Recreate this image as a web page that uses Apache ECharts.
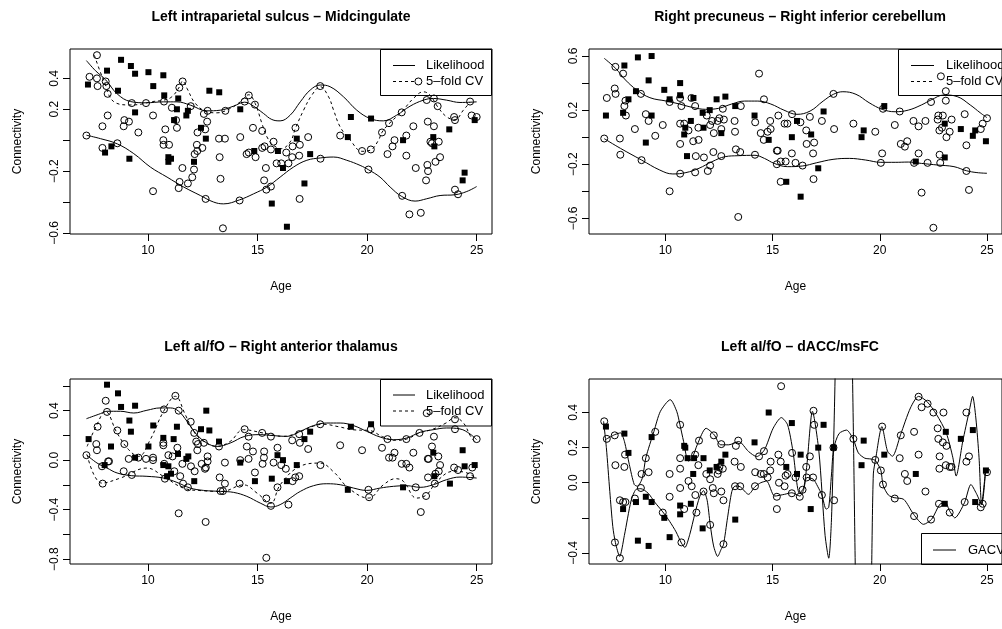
<!DOCTYPE html>
<html lang="en">
<head>
<meta charset="utf-8">
<title>Connectivity vs Age</title>
<style>
    html, body { margin: 0; padding: 0; background: #fff; }
    .page { width: 1002px; height: 629px; }
</style>
</head>
<body>
<div id="page" class="page"></div>
<script src="https://cdn.jsdelivr.net/npm/echarts@6/dist/echarts.min.js"></script>
<script>
var FONT = '"Liberation Sans", Arial, Helvetica, sans-serif';

// shared age axis
var ageRange = [6.44, 25.7];
var ageTicks = [10, 15, 20, 25];

// panel titles
var titles = [
    'Left intraparietal sulcus \u2013 Midcingulate',
    'Right precuneus \u2013 Right inferior cerebellum',
    'Left aI/fO \u2013 Right anterior thalamus',
    'Left aI/fO \u2013 dACC/msFC'
];

// y ranges, ticks and the labels R kept
var p1Range = [-0.607, 0.59], p1Ticks = [-0.6, -0.4, -0.2, 0, 0.2, 0.4], p1Labels = [-0.6, -0.2, 0.2, 0.4];
var p2Range = [-0.716, 0.652], p2Ticks = [-0.6, -0.4, -0.2, 0, 0.2, 0.4, 0.6], p2Labels = [-0.6, -0.2, 0.2, 0.6];
var p3Range = [-0.84, 0.656], p3Ticks = [-0.8, -0.6, -0.4, -0.2, 0, 0.2, 0.4, 0.6], p3Labels = [-0.8, -0.4, 0, 0.4];
var p4Range = [-0.463, 0.591], p4Ticks = [-0.4, -0.2, 0, 0.2, 0.4], p4Labels = [-0.4, 0, 0.2, 0.4];

// ---- panel 1: Left intraparietal sulcus - Midcingulate
var p1Open = [[7.67,0.55],[7.33,0.41],[7.67,0.40],[7.70,0.35],[8.07,0.38],[8.16,0.30],[8.10,0.35],[7.19,0.03],[7.92,0.09],[8.16,0.16],[7.92,-0.05],[8.60,-0.02],[8.92,0.13],[8.89,0.09],[9.13,0.12],[9.26,0.24],[9.56,0.05],[9.91,0.24],[10.23,0.16],[10.23,-0.33],[10.73,0.25],[10.79,0.07],[10.70,0.00],[10.71,-0.03],[10.96,-0.03],[11.09,0.21],[11.28,0.13],[11.32,0.08],[11.43,0.34],[11.58,0.38],[11.57,-0.18],[11.44,-0.27],[11.40,-0.31],[11.82,-0.28],[11.95,0.22],[12.02,-0.24],[12.10,-0.19],[12.13,-0.09],[12.25,-0.07],[12.23,-0.03],[12.26,0.05],[12.48,-0.05],[12.55,0.17],[12.61,0.07],[12.70,0.12],[12.63,-0.38],[12.72,0.19],[13.24,0.01],[13.51,0.01],[13.27,-0.11],[13.31,-0.25],[13.42,-0.57],[13.53,0.19],[14.18,-0.39],[14.21,0.02],[14.41,0.25],[14.60,0.29],[14.50,-0.09],[14.60,-0.08],[14.91,-0.11],[14.88,0.23],[14.79,0.08],[15.21,0.06],[15.21,-0.05],[15.32,-0.04],[15.30,-0.26],[15.38,-0.18],[15.40,-0.32],[15.61,-0.30],[15.61,-0.06],[15.73,-0.01],[15.87,-0.15],[16.08,-0.15],[16.31,-0.08],[16.41,-0.15],[16.58,-0.11],[16.60,-0.04],[16.73,0.08],[16.90,-0.10],[16.93,-0.03],[16.92,-0.38],[17.31,0.02],[17.86,0.35],[17.87,-0.12],[18.77,0.03],[19.77,-0.07],[20.17,-0.06],[20.06,-0.19],[20.68,0.05],[20.93,-0.09],[21.00,0.11],[21.16,-0.04],[21.25,0.00],[21.58,0.18],[21.60,-0.36],[21.79,0.03],[21.79,-0.10],[22.11,0.09],[22.22,-0.18],[21.93,-0.48],[22.45,-0.47],[22.69,-0.26],[22.75,-0.16],[22.78,-0.20],[22.77,0.12],[22.72,0.26],[22.89,-0.01],[22.96,-0.02],[23.05,0.09],[23.05,0.27],[23.12,-0.14],[23.22,0.22],[23.27,-0.01],[23.33,-0.11],[23.97,0.15],[24.01,0.13],[24.01,-0.32],[24.15,-0.35],[24.70,0.25],[24.77,0.16],[25.00,0.15],[22.34,0.38]];
var p1Fill = [[7.26,0.36],[8.13,0.45],[8.04,-0.08],[8.33,-0.04],[8.63,0.32],[8.77,0.52],[9.22,0.48],[9.41,0.43],[9.41,0.18],[9.15,-0.12],[10.02,0.44],[10.24,0.35],[10.70,0.42],[10.74,0.29],[10.93,-0.11],[11.05,-0.12],[10.93,-0.14],[11.19,0.13],[11.32,0.20],[11.38,0.27],[11.75,0.16],[11.82,0.19],[12.10,-0.14],[12.42,0.08],[12.64,0.01],[12.80,0.32],[13.25,0.31],[14.21,0.20],[14.85,-0.07],[15.65,-0.41],[15.93,-0.07],[16.16,-0.18],[16.34,-0.56],[16.79,0.01],[17.14,-0.28],[17.40,-0.09],[19.12,0.02],[19.26,0.15],[20.18,0.14],[21.64,0.00],[23.02,0.02],[23.07,-0.04],[23.75,0.07],[24.36,-0.26],[24.45,-0.21],[24.91,0.13]];
var p1LikUp = [[7.19,0.515],[7.6,0.45],[8.07,0.39],[8.59,0.30],[9.2,0.25],[9.91,0.242],[10.71,0.248],[11.32,0.248],[11.93,0.227],[12.69,0.19],[13.3,0.194],[13.9,0.22],[14.41,0.246],[14.82,0.22],[15.27,0.173],[15.65,0.134],[16.03,0.125],[16.49,0.162],[16.95,0.248],[17.4,0.324],[17.86,0.357],[18.31,0.346],[18.92,0.281],[19.53,0.194],[20.14,0.14],[20.74,0.125],[21.35,0.162],[21.96,0.22],[22.57,0.259],[23.02,0.27],[23.63,0.259],[24.24,0.244],[25.0,0.248]];
var p1LikLow = [[7.19,0.032],[7.83,0.01],[8.6,-0.024],[9.35,-0.087],[10.11,-0.174],[10.87,-0.239],[11.63,-0.303],[12.39,-0.358],[12.99,-0.40],[13.45,-0.412],[14.18,-0.386],[14.82,-0.347],[15.43,-0.303],[16.03,-0.239],[16.64,-0.174],[17.25,-0.13],[17.86,-0.115],[18.47,-0.109],[19.07,-0.13],[19.68,-0.163],[20.06,-0.191],[20.59,-0.239],[21.05,-0.303],[21.58,-0.364],[22.19,-0.394],[22.72,-0.379],[23.33,-0.358],[24.01,-0.353],[24.55,-0.332],[25.0,-0.3]];
var p1CvUp = [[7.55,0.55],[7.8,0.45],[8.0,0.38],[8.43,0.25],[9.19,0.228],[9.7,0.233],[10.11,0.248],[10.71,0.259],[11.09,0.281],[11.43,0.344],[11.58,0.383],[11.78,0.335],[12.16,0.238],[12.69,0.184],[13.15,0.177],[13.75,0.205],[14.21,0.248],[14.6,0.294],[14.89,0.238],[15.2,0.108],[15.43,0.021],[15.73,-0.033],[16.08,-0.055],[16.49,-0.011],[16.73,0.077],[17.1,0.194],[17.48,0.292],[17.86,0.346],[18.24,0.281],[18.47,0.194],[18.77,0.086],[19.23,0.0],[19.77,-0.072],[20.17,-0.063],[20.52,0.0],[20.68,0.051],[21.0,0.106],[21.58,0.184],[22.11,0.27],[22.57,0.313],[22.87,0.292],[23.22,0.216],[23.63,0.151],[24.01,0.132],[24.39,0.194],[24.7,0.246]];

// ---- panel 2: Right precuneus - Right inferior cerebellum
var p2Open = [[7.27,0.29],[7.15,-0.01],[7.67,0.52],[7.64,0.36],[7.68,0.32],[8.03,0.47],[8.09,0.23],[8.14,0.27],[8.16,0.16],[7.88,-0.01],[7.90,-0.13],[8.58,0.06],[8.86,0.32],[8.89,-0.17],[9.09,0.17],[9.22,0.12],[9.53,0.01],[9.88,0.09],[10.20,0.26],[10.20,-0.40],[10.69,0.29],[10.75,0.23],[10.69,0.10],[10.69,-0.05],[10.69,-0.27],[10.88,0.10],[11.08,0.05],[11.22,0.29],[11.39,0.23],[11.30,-0.03],[11.42,-0.14],[11.54,0.07],[11.55,-0.02],[11.39,-0.26],[11.80,-0.15],[11.93,0.16],[11.98,-0.25],[12.09,-0.21],[12.09,0.09],[12.18,0.12],[12.26,0.03],[12.24,-0.11],[12.44,0.12],[12.52,0.14],[12.61,0.06],[12.61,-0.14],[12.68,0.21],[12.73,0.13],[13.23,0.12],[13.25,0.04],[13.29,-0.09],[13.40,-0.59],[13.49,-0.11],[13.52,0.23],[14.19,0.11],[14.18,-0.13],[14.37,0.47],[14.60,0.28],[14.45,0.03],[14.59,-0.02],[14.77,0.04],[14.89,0.12],[14.91,0.06],[15.20,-0.10],[15.24,-0.10],[15.27,0.16],[15.20,-0.20],[15.38,-0.18],[15.38,-0.33],[15.61,-0.18],[15.56,0.10],[15.69,0.10],[15.91,0.17],[15.90,-0.12],[16.07,-0.19],[16.30,0.11],[16.40,-0.21],[16.57,0.05],[16.59,-0.05],[16.74,0.15],[16.89,-0.12],[16.91,-0.31],[16.94,-0.04],[17.30,0.12],[17.84,0.32],[17.87,0.06],[18.77,0.10],[19.79,0.04],[20.05,-0.19],[20.11,-0.12],[20.15,0.21],[20.70,0.09],[20.93,0.19],[20.98,-0.05],[21.17,-0.07],[21.28,-0.03],[21.57,0.12],[21.60,-0.19],[21.81,0.08],[21.81,-0.12],[21.95,-0.41],[22.13,0.12],[22.23,-0.19],[22.39,0.26],[22.50,-0.67],[22.70,0.13],[22.73,0.16],[22.78,0.05],[22.79,-0.13],[22.82,-0.19],[22.94,0.16],[22.90,0.07],[23.08,0.34],[23.08,0.27],[23.11,0.00],[23.26,0.04],[23.35,0.13],[22.85,0.45],[23.96,0.17],[24.04,-0.06],[24.04,-0.25],[24.16,-0.39],[24.71,0.06],[24.80,0.10],[25.00,0.14]];
var p2Fill = [[7.23,0.16],[8.09,0.53],[8.03,0.18],[8.28,0.28],[8.63,0.34],[8.72,0.59],[9.22,0.42],[9.36,0.60],[9.36,0.16],[9.09,-0.04],[9.95,0.35],[10.20,0.28],[10.69,0.40],[10.69,0.31],[10.88,0.02],[10.93,0.07],[11.19,0.12],[11.01,-0.14],[11.31,0.29],[11.74,0.18],[11.78,0.07],[12.07,0.20],[12.39,0.28],[12.61,0.03],[12.80,0.30],[13.26,0.23],[14.16,0.16],[14.82,-0.02],[15.64,-0.33],[15.90,0.00],[16.14,0.12],[16.31,-0.44],[16.80,0.02],[17.13,-0.23],[17.38,0.19],[19.15,0.00],[19.25,0.05],[20.21,0.23],[21.68,-0.18],[23.03,0.10],[23.03,-0.15],[23.78,0.06],[24.45,0.05],[24.34,0.01],[24.95,-0.03]];
var p2LikUp = [[7.15,0.583],[7.68,0.509],[8.14,0.423],[8.67,0.349],[9.28,0.292],[10.05,0.267],[10.66,0.245],[11.27,0.22],[11.88,0.206],[12.48,0.213],[13.09,0.245],[13.7,0.267],[14.31,0.267],[14.92,0.245],[15.53,0.2],[16.14,0.169],[16.75,0.193],[17.36,0.267],[17.84,0.317],[18.28,0.336],[18.89,0.317],[19.5,0.255],[20.11,0.206],[20.72,0.188],[21.33,0.2],[21.94,0.238],[22.39,0.275],[23.0,0.312],[23.61,0.3],[24.22,0.238],[24.68,0.181],[25.0,0.144]];
var p2LikLow = [[7.15,-0.011],[7.91,-0.083],[8.89,-0.169],[9.74,-0.243],[10.35,-0.272],[10.96,-0.262],[11.57,-0.23],[12.18,-0.181],[12.79,-0.144],[13.4,-0.137],[14.18,-0.134],[14.62,-0.157],[15.08,-0.194],[15.69,-0.218],[16.4,-0.213],[17.06,-0.189],[17.82,-0.164],[18.58,-0.157],[19.34,-0.169],[20.05,-0.186],[20.72,-0.186],[21.33,-0.184],[21.94,-0.194],[22.7,-0.206],[23.46,-0.218],[24.04,-0.248],[24.53,-0.262],[25.0,-0.267]];

// ---- panel 3: Left aI/fO - Right anterior thalamus
var p3Open = [[7.19,0.04],[7.70,0.27],[7.64,0.13],[7.67,0.08],[8.07,0.48],[8.13,0.39],[7.90,-0.05],[8.18,-0.01],[8.22,-0.01],[7.93,-0.19],[8.60,0.24],[8.92,0.13],[8.89,-0.09],[9.26,-0.12],[9.12,0.01],[9.56,0.02],[9.91,0.01],[10.23,0.02],[10.23,0.00],[10.73,0.41],[10.70,0.14],[10.70,0.12],[10.74,-0.03],[10.77,-0.15],[10.93,0.04],[11.12,0.03],[11.25,0.52],[11.20,-0.09],[11.34,0.10],[11.40,0.40],[11.40,-0.43],[11.47,-0.13],[11.57,-0.03],[11.60,-0.19],[11.82,-0.22],[11.95,0.31],[11.96,-0.05],[12.11,0.22],[12.13,-0.09],[12.20,0.15],[12.25,0.08],[12.28,0.13],[12.45,-0.03],[12.55,0.14],[12.60,-0.07],[12.63,-0.50],[12.72,0.03],[12.72,-0.01],[12.64,-0.06],[13.24,0.11],[13.27,-0.14],[13.31,-0.25],[13.42,-0.25],[13.51,-0.02],[13.51,-0.19],[14.18,-0.19],[14.21,0.00],[14.41,0.25],[14.51,0.11],[14.59,0.19],[14.59,0.01],[14.79,0.07],[14.88,-0.10],[15.21,0.22],[15.30,0.07],[15.29,0.02],[15.23,-0.03],[15.40,-0.31],[15.40,-0.79],[15.61,-0.37],[15.61,0.19],[15.73,-0.02],[15.91,0.10],[15.91,-0.22],[16.08,-0.04],[16.29,-0.07],[16.41,-0.36],[16.58,0.16],[16.60,-0.17],[16.72,-0.14],[16.90,0.21],[16.93,0.14],[16.90,-0.13],[17.31,0.09],[17.86,0.29],[17.87,-0.04],[18.77,0.12],[19.77,0.08],[20.06,-0.24],[20.09,-0.30],[20.17,0.25],[20.68,0.10],[20.93,0.17],[21.00,0.02],[21.16,0.02],[21.25,0.06],[21.58,-0.03],[21.79,-0.03],[21.79,0.17],[21.93,-0.06],[22.11,0.06],[22.22,-0.22],[22.39,0.22],[22.45,-0.42],[22.69,-0.29],[22.72,0.38],[22.78,-0.14],[22.77,0.01],[22.81,0.01],[22.96,0.11],[23.05,0.19],[23.09,-0.19],[23.12,-0.11],[23.25,0.03],[23.33,-0.04],[23.27,-0.09],[23.97,-0.06],[24.01,0.33],[24.01,0.25],[24.15,-0.08],[24.70,-0.13],[24.80,-0.06],[25.00,0.17]];
var p3Fill = [[7.29,0.17],[8.13,0.61],[8.02,-0.04],[8.63,0.54],[8.31,0.11],[8.77,0.43],[9.15,0.32],[9.22,0.23],[9.41,0.44],[9.41,0.02],[10.02,0.11],[10.24,0.28],[10.70,0.18],[10.70,-0.04],[10.93,-0.05],[10.87,-0.13],[11.05,-0.11],[11.17,0.17],[11.32,0.27],[11.37,0.05],[11.75,0.01],[11.84,0.03],[12.11,-0.17],[12.42,0.25],[12.66,0.40],[12.80,0.24],[13.24,0.15],[14.21,-0.02],[14.88,-0.17],[15.65,-0.15],[15.91,0.04],[16.16,0.00],[16.34,-0.17],[16.79,-0.04],[17.14,0.17],[17.40,0.23],[19.12,-0.24],[19.26,0.27],[20.18,0.29],[21.64,-0.22],[23.02,0.06],[23.07,-0.13],[23.78,-0.19],[24.36,0.08],[24.45,-0.05],[24.91,-0.04]];
var p3LikUp = [[7.19,0.335],[7.83,0.376],[8.13,0.395],[8.74,0.395],[9.35,0.381],[9.95,0.403],[10.56,0.422],[11.02,0.422],[11.4,0.395],[11.78,0.314],[12.23,0.206],[12.69,0.138],[13.15,0.111],[13.75,0.138],[14.41,0.192],[15.12,0.206],[15.73,0.198],[16.34,0.192],[16.95,0.233],[17.55,0.279],[18.16,0.3],[18.77,0.3],[19.38,0.279],[19.98,0.233],[20.59,0.187],[21.2,0.165],[21.81,0.179],[22.42,0.225],[23.02,0.246],[23.63,0.26],[24.24,0.252],[24.7,0.211],[25.0,0.165]];
var p3LikLow = [[7.19,0.044],[7.67,-0.023],[8.13,-0.064],[8.59,-0.104],[9.26,-0.126],[9.95,-0.131],[10.7,-0.145],[11.32,-0.18],[11.93,-0.226],[12.54,-0.245],[13.31,-0.253],[13.91,-0.261],[14.51,-0.293],[15.12,-0.347],[15.61,-0.379],[16.03,-0.36],[16.49,-0.307],[16.95,-0.253],[17.55,-0.207],[18.16,-0.191],[18.77,-0.199],[19.38,-0.226],[19.98,-0.245],[20.59,-0.226],[21.2,-0.212],[21.81,-0.207],[22.42,-0.22],[23.02,-0.199],[23.63,-0.158],[24.24,-0.137],[25.0,-0.145]];
var p3CvUp = [[7.22,0.111],[7.67,0.287],[8.05,0.394],[8.59,0.219],[9.12,0.084],[9.57,0.03],[10.1,0.165],[10.71,0.394],[11.25,0.516],[11.7,0.368],[12.08,0.233],[12.54,0.151],[13.15,0.111],[13.75,0.151],[14.36,0.246],[15.27,0.219],[16.18,0.192],[16.95,0.23],[17.55,0.275],[18.0,0.29],[18.7,0.27],[19.4,0.245],[20.1,0.24],[20.7,0.19],[21.3,0.16],[21.8,0.17],[22.4,0.22],[23.0,0.25],[23.6,0.3],[24.01,0.343],[24.4,0.3],[24.7,0.2],[24.9,0.15]];
var p3CvLow = [[7.22,0.044],[7.9,-0.186],[8.74,-0.145],[9.95,-0.064],[10.71,-0.132],[11.62,-0.226],[12.54,-0.248],[13.37,-0.253],[14.36,-0.2],[15.0,-0.27],[15.6,-0.35],[16.03,-0.2],[16.94,-0.05],[17.85,-0.024],[18.5,-0.1],[19.15,-0.226],[20.06,-0.307],[20.74,-0.2],[21.3,-0.15],[21.66,-0.172],[22.26,-0.307],[22.72,-0.28],[23.18,-0.172],[23.94,-0.09],[24.5,-0.1],[25.0,-0.15]];

// ---- panel 4: Left aI/fO - dACC/msFC
var p4Open = [[7.15,0.35],[7.27,0.25],[7.64,0.27],[7.67,0.10],[7.65,-0.34],[7.88,-0.43],[7.88,-0.10],[8.03,-0.11],[8.14,-0.11],[8.12,0.16],[8.09,0.09],[8.58,-0.09],[8.86,-0.03],[8.89,0.05],[9.09,0.14],[9.22,0.06],[9.53,0.29],[9.88,-0.17],[10.20,0.05],[10.20,-0.08],[10.69,0.33],[10.69,0.14],[10.69,0.08],[10.69,-0.03],[10.75,-0.34],[10.88,-0.15],[11.08,0.01],[11.23,-0.02],[11.39,0.16],[11.40,-0.07],[11.45,-0.17],[11.54,0.10],[11.57,0.24],[11.78,-0.05],[11.91,0.05],[12.09,-0.24],[12.09,0.02],[12.21,-0.03],[12.26,0.27],[12.26,-0.06],[12.44,0.05],[12.48,0.07],[12.52,0.09],[12.61,0.22],[12.61,-0.05],[12.68,0.08],[12.71,-0.10],[12.71,-0.35],[13.23,0.12],[13.25,-0.02],[13.29,0.21],[13.40,0.24],[13.52,0.09],[13.49,-0.02],[14.19,0.06],[14.18,-0.02],[14.37,0.15],[14.45,0.05],[14.60,0.18],[14.59,0.05],[14.77,0.03],[14.89,0.07],[14.91,0.12],[15.20,-0.08],[15.20,-0.15],[15.27,0.16],[15.30,0.00],[15.40,0.55],[15.38,0.12],[15.56,-0.02],[15.61,0.04],[15.70,0.05],[15.91,0.17],[15.90,-0.06],[16.07,0.03],[16.40,-0.04],[16.27,-0.08],[16.57,0.09],[16.59,0.03],[16.74,0.15],[16.91,0.41],[16.94,0.33],[16.89,0.03],[17.30,-0.07],[17.84,0.20],[17.87,-0.10],[18.77,0.25],[19.79,0.13],[20.05,0.07],[20.11,0.32],[20.15,-0.01],[20.70,-0.09],[20.93,0.14],[20.98,0.27],[21.17,0.05],[21.28,0.01],[21.60,0.29],[21.60,-0.19],[21.81,0.49],[21.81,0.16],[21.95,0.43],[22.13,-0.05],[22.23,0.45],[22.39,-0.21],[22.50,0.40],[22.70,0.31],[22.73,0.25],[22.78,0.08],[22.79,0.15],[22.76,-0.12],[22.94,0.23],[22.97,0.40],[23.11,0.21],[23.08,0.10],[23.26,0.09],[23.35,0.09],[23.26,-0.17],[23.96,-0.11],[24.04,0.40],[24.04,0.12],[24.16,0.15],[24.71,-0.14],[24.80,-0.12],[25.00,0.06]];
var p4Fill = [[7.23,0.32],[8.09,0.28],[8.28,0.17],[8.03,-0.15],[8.63,-0.11],[8.72,-0.33],[9.09,-0.08],[9.22,-0.36],[9.36,0.26],[9.36,-0.11],[9.95,-0.20],[10.20,-0.31],[10.88,0.21],[10.93,0.20],[10.69,-0.13],[10.69,-0.18],[11.04,0.14],[11.19,-0.12],[11.30,0.05],[11.34,0.14],[11.74,-0.26],[11.78,0.14],[12.07,0.07],[12.39,0.09],[12.61,0.12],[12.80,0.16],[13.26,-0.21],[14.16,0.23],[14.82,0.40],[15.64,0.09],[15.90,0.34],[16.14,0.05],[16.31,0.16],[16.78,-0.15],[17.13,0.20],[17.38,0.33],[17.85,0.20],[19.25,0.24],[19.15,0.10],[20.21,0.16],[21.68,0.05],[23.03,-0.12],[23.08,0.29],[23.78,0.25],[24.34,0.30],[24.45,-0.11],[24.95,0.07]];
var p4GacvA = [[7.12,0.35],[7.25,0.2],[7.41,-0.05],[7.55,-0.25],[7.67,-0.34],[7.87,-0.42],[8.09,-0.3],[8.4,-0.104],[8.63,-0.038],[8.86,-0.034],[9.2,-0.06],[9.5,-0.11],[9.88,-0.166],[10.2,-0.22],[10.5,-0.28],[10.75,-0.344],[10.91,-0.369],[11.14,-0.294],[11.37,-0.18],[11.6,-0.08],[11.78,-0.045],[11.95,-0.1],[12.09,-0.236],[12.25,-0.36],[12.44,-0.42],[12.6,-0.38],[12.71,-0.354],[12.9,-0.2],[13.1,-0.05],[13.25,-0.019],[13.49,-0.023],[13.88,-0.066],[14.18,-0.023],[14.45,0.0],[14.72,0.009],[15.1,-0.076],[15.56,-0.066],[15.9,-0.057],[16.27,-0.076],[16.45,-0.04],[16.6,0.03],[16.9,0.02],[17.1,-0.02],[17.3,-0.07],[17.5,-0.15],[17.62,-0.14],[17.75,0.05],[17.85,0.195],[18.1,0.28],[18.45,0.3],[18.77,0.246],[19.0,0.17],[19.3,0.14],[19.6,0.135],[19.79,0.127],[20.05,0.072],[20.15,-0.013],[20.4,-0.07],[20.67,-0.085],[21.12,-0.095],[21.58,-0.18],[22.04,-0.237],[22.42,-0.208],[22.8,-0.123],[23.06,-0.114],[23.26,-0.161],[23.5,-0.2],[23.95,-0.114],[24.25,-0.01],[24.5,-0.06],[24.75,-0.123],[24.93,0.066]];
var p4GacvB = [[7.21,0.246],[7.64,0.274],[7.91,0.284],[8.09,0.236],[8.32,0.104],[8.55,-0.01],[8.7,-0.02],[8.93,0.028],[9.09,0.142],[9.47,0.293],[9.77,0.407],[10.23,0.473],[10.53,0.407],[10.68,0.331],[10.85,0.236],[11.07,0.123],[11.25,0.14],[11.5,0.22],[11.9,0.31],[12.28,0.273],[12.58,0.216],[12.96,0.216],[13.42,0.235],[13.88,0.178],[14.26,0.149],[14.62,0.187],[15.03,0.311],[15.41,0.371],[15.7,0.33],[15.95,0.18],[16.25,-0.06],[16.45,-0.03],[16.6,0.1],[16.86,0.407],[17.16,0.18],[17.45,-0.3],[17.62,-0.43],[17.75,-0.2],[17.9,0.5],[18.05,1.5],[18.35,2.5],[18.6,1.5],[18.73,0.6],[18.78,0.2],[18.86,-0.5],[19.0,-1.5],[19.25,-2.5],[19.5,-1.5],[19.62,-0.5],[19.7,0.05],[19.8,0.13],[20.1,0.32],[20.36,0.18],[20.59,0.151],[20.97,0.274],[21.43,0.426],[21.81,0.492],[22.19,0.464],[22.65,0.388],[23.1,0.284],[23.41,0.142],[23.56,0.038],[23.87,0.236],[24.17,0.407],[24.33,0.492],[24.48,0.369],[24.63,0.142],[24.75,-0.123],[24.93,0.066]];

(function () {
    var myChart = echarts.init(document.getElementById('page'), null, {renderer: 'canvas'});

    // plot boxes (the right column is wider than the window, as in the picture)
    var boxes = [
        {left: 70, top: 49, width: 422, height: 185},
        {left: 589, top: 49, width: 422, height: 185},
        {left: 70, top: 379, width: 422, height: 185},
        {left: 589, top: 379, width: 422, height: 185}
    ];
    var yRanges = [p1Range, p2Range, p3Range, p4Range];
    var yTicks = [p1Ticks, p2Ticks, p3Ticks, p4Ticks];
    var yLabels = [p1Labels, p2Labels, p3Labels, p4Labels];

    function fmt(v) {
        return (v < 0 ? '\u2212' : '') + Math.abs(v).toFixed(1);
    }

    var txt = {color: '#000', fontSize: 12, fontFamily: FONT};

    var grid = [], xAxis = [], yAxis = [];
    boxes.forEach(function (b, i) {
        grid.push({
            left: b.left, top: b.top, width: b.width, height: b.height,
            show: true, borderColor: '#000', borderWidth: 1, backgroundColor: 'transparent'
        });
        xAxis.push({
            gridIndex: i, type: 'value', min: ageRange[0], max: ageRange[1],
            axisLine: {show: false, onZero: false},
            splitLine: {show: false},
            axisTick: {show: true, length: 7, lineStyle: {color: '#000'}, customValues: ageTicks},
            axisLabel: {customValues: ageTicks, margin: 11, color: '#000', fontSize: 12, fontFamily: FONT},
            name: 'Age', nameLocation: 'middle', nameGap: 47, nameTextStyle: txt
        });
        yAxis.push({
            gridIndex: i, type: 'value', min: yRanges[i][0], max: yRanges[i][1],
            axisLine: {show: false, onZero: false},
            splitLine: {show: false},
            axisTick: {show: true, length: 7, lineStyle: {color: '#000'}, customValues: yTicks[i]},
            axisLabel: {customValues: yLabels[i], rotate: 90, margin: 9, formatter: fmt,
                color: '#000', fontSize: 12, fontFamily: FONT},
            name: 'Connectivity', nameLocation: 'middle', nameGap: 46, nameTextStyle: txt
        });
    });

    function pts(i, data, filled) {
        return {
            type: 'scatter', xAxisIndex: i, yAxisIndex: i, data: data, silent: true, z: 4,
            symbol: filled ? 'rect' : 'circle',
            symbolSize: filled ? 6 : 7,
            itemStyle: filled
                ? {color: '#000', opacity: 1}
                : {color: 'rgba(0,0,0,0)', borderColor: '#000', borderWidth: 1, opacity: 1}
        };
    }

    function curve(i, data, dashed, smooth) {
        return {
            type: 'line', xAxisIndex: i, yAxisIndex: i, data: data, silent: true, z: 3,
            showSymbol: false, symbol: 'none', smooth: smooth, clip: true,
            lineStyle: {color: '#000', width: 1, type: dashed ? [3, 3] : 'solid'}
        };
    }

    var series = [
        curve(0, p1LikUp, false, 0.4), curve(0, p1LikLow, false, 0.4), curve(0, p1CvUp, true, 0.4),
        pts(0, p1Open, false), pts(0, p1Fill, true),
        curve(1, p2LikUp, false, 0.4), curve(1, p2LikLow, false, 0.4),
        pts(1, p2Open, false), pts(1, p2Fill, true),
        curve(2, p3LikUp, false, 0.4), curve(2, p3LikLow, false, 0.4),
        curve(2, p3CvUp, true, 0.4), curve(2, p3CvLow, true, 0.4),
        pts(2, p3Open, false), pts(2, p3Fill, true),
        curve(3, p4GacvA, false, 0.25), curve(3, p4GacvB, false, 0.25),
        pts(3, p4Open, false), pts(3, p4Fill, true)
    ];

    // titles and R-style boxed legends
    var graphics = [];
    boxes.forEach(function (b, i) {
        graphics.push({
            type: 'text', x: b.left + b.width / 2, y: b.top - 32, silent: true,
            style: {text: titles[i], fill: '#000', fontSize: 14, fontWeight: 'bold', fontFamily: FONT,
                align: 'center', verticalAlign: 'middle'}
        });
    });

    function legend(x, y, w, h, rows, lineX, textX, rowY) {
        graphics.push({type: 'rect', silent: true, shape: {x: x, y: y, width: w, height: h},
            style: {fill: 'none', stroke: '#000', lineWidth: 1}});
        rows.forEach(function (r, k) {
            graphics.push({type: 'line', silent: true,
                shape: {x1: lineX[0], y1: rowY[k], x2: lineX[1], y2: rowY[k]},
                style: {stroke: '#000', lineWidth: 1, lineDash: r.dashed ? [3, 3] : null}});
            graphics.push({type: 'text', silent: true, x: textX, y: rowY[k],
                style: {text: r.name, fill: '#000', fontSize: 13, fontFamily: FONT, align: 'left', verticalAlign: 'middle'}});
        });
    }

    var fitRows = [{name: 'Likelihood', dashed: false}, {name: '5\u2013fold CV', dashed: true}];
    legend(380.5, 49.5, 111, 46, fitRows, [393, 415], 426, [65.5, 81.5]);
    legend(898.5, 49.5, 120, 46, fitRows, [911, 934], 946, [65.5, 81.5]);
    legend(380.5, 379.5, 111, 46.5, fitRows, [393, 415], 426, [395, 411]);
    legend(921.5, 533.5, 100, 31, [{name: 'GACV', dashed: false}], [933, 956], 968, [550]);

    myChart.setOption({
        animation: false,
        backgroundColor: '#fff',
        textStyle: {fontFamily: FONT},
        grid: grid,
        xAxis: xAxis,
        yAxis: yAxis,
        series: series,
        graphic: graphics
    });
})();
</script>
</body>
</html>
